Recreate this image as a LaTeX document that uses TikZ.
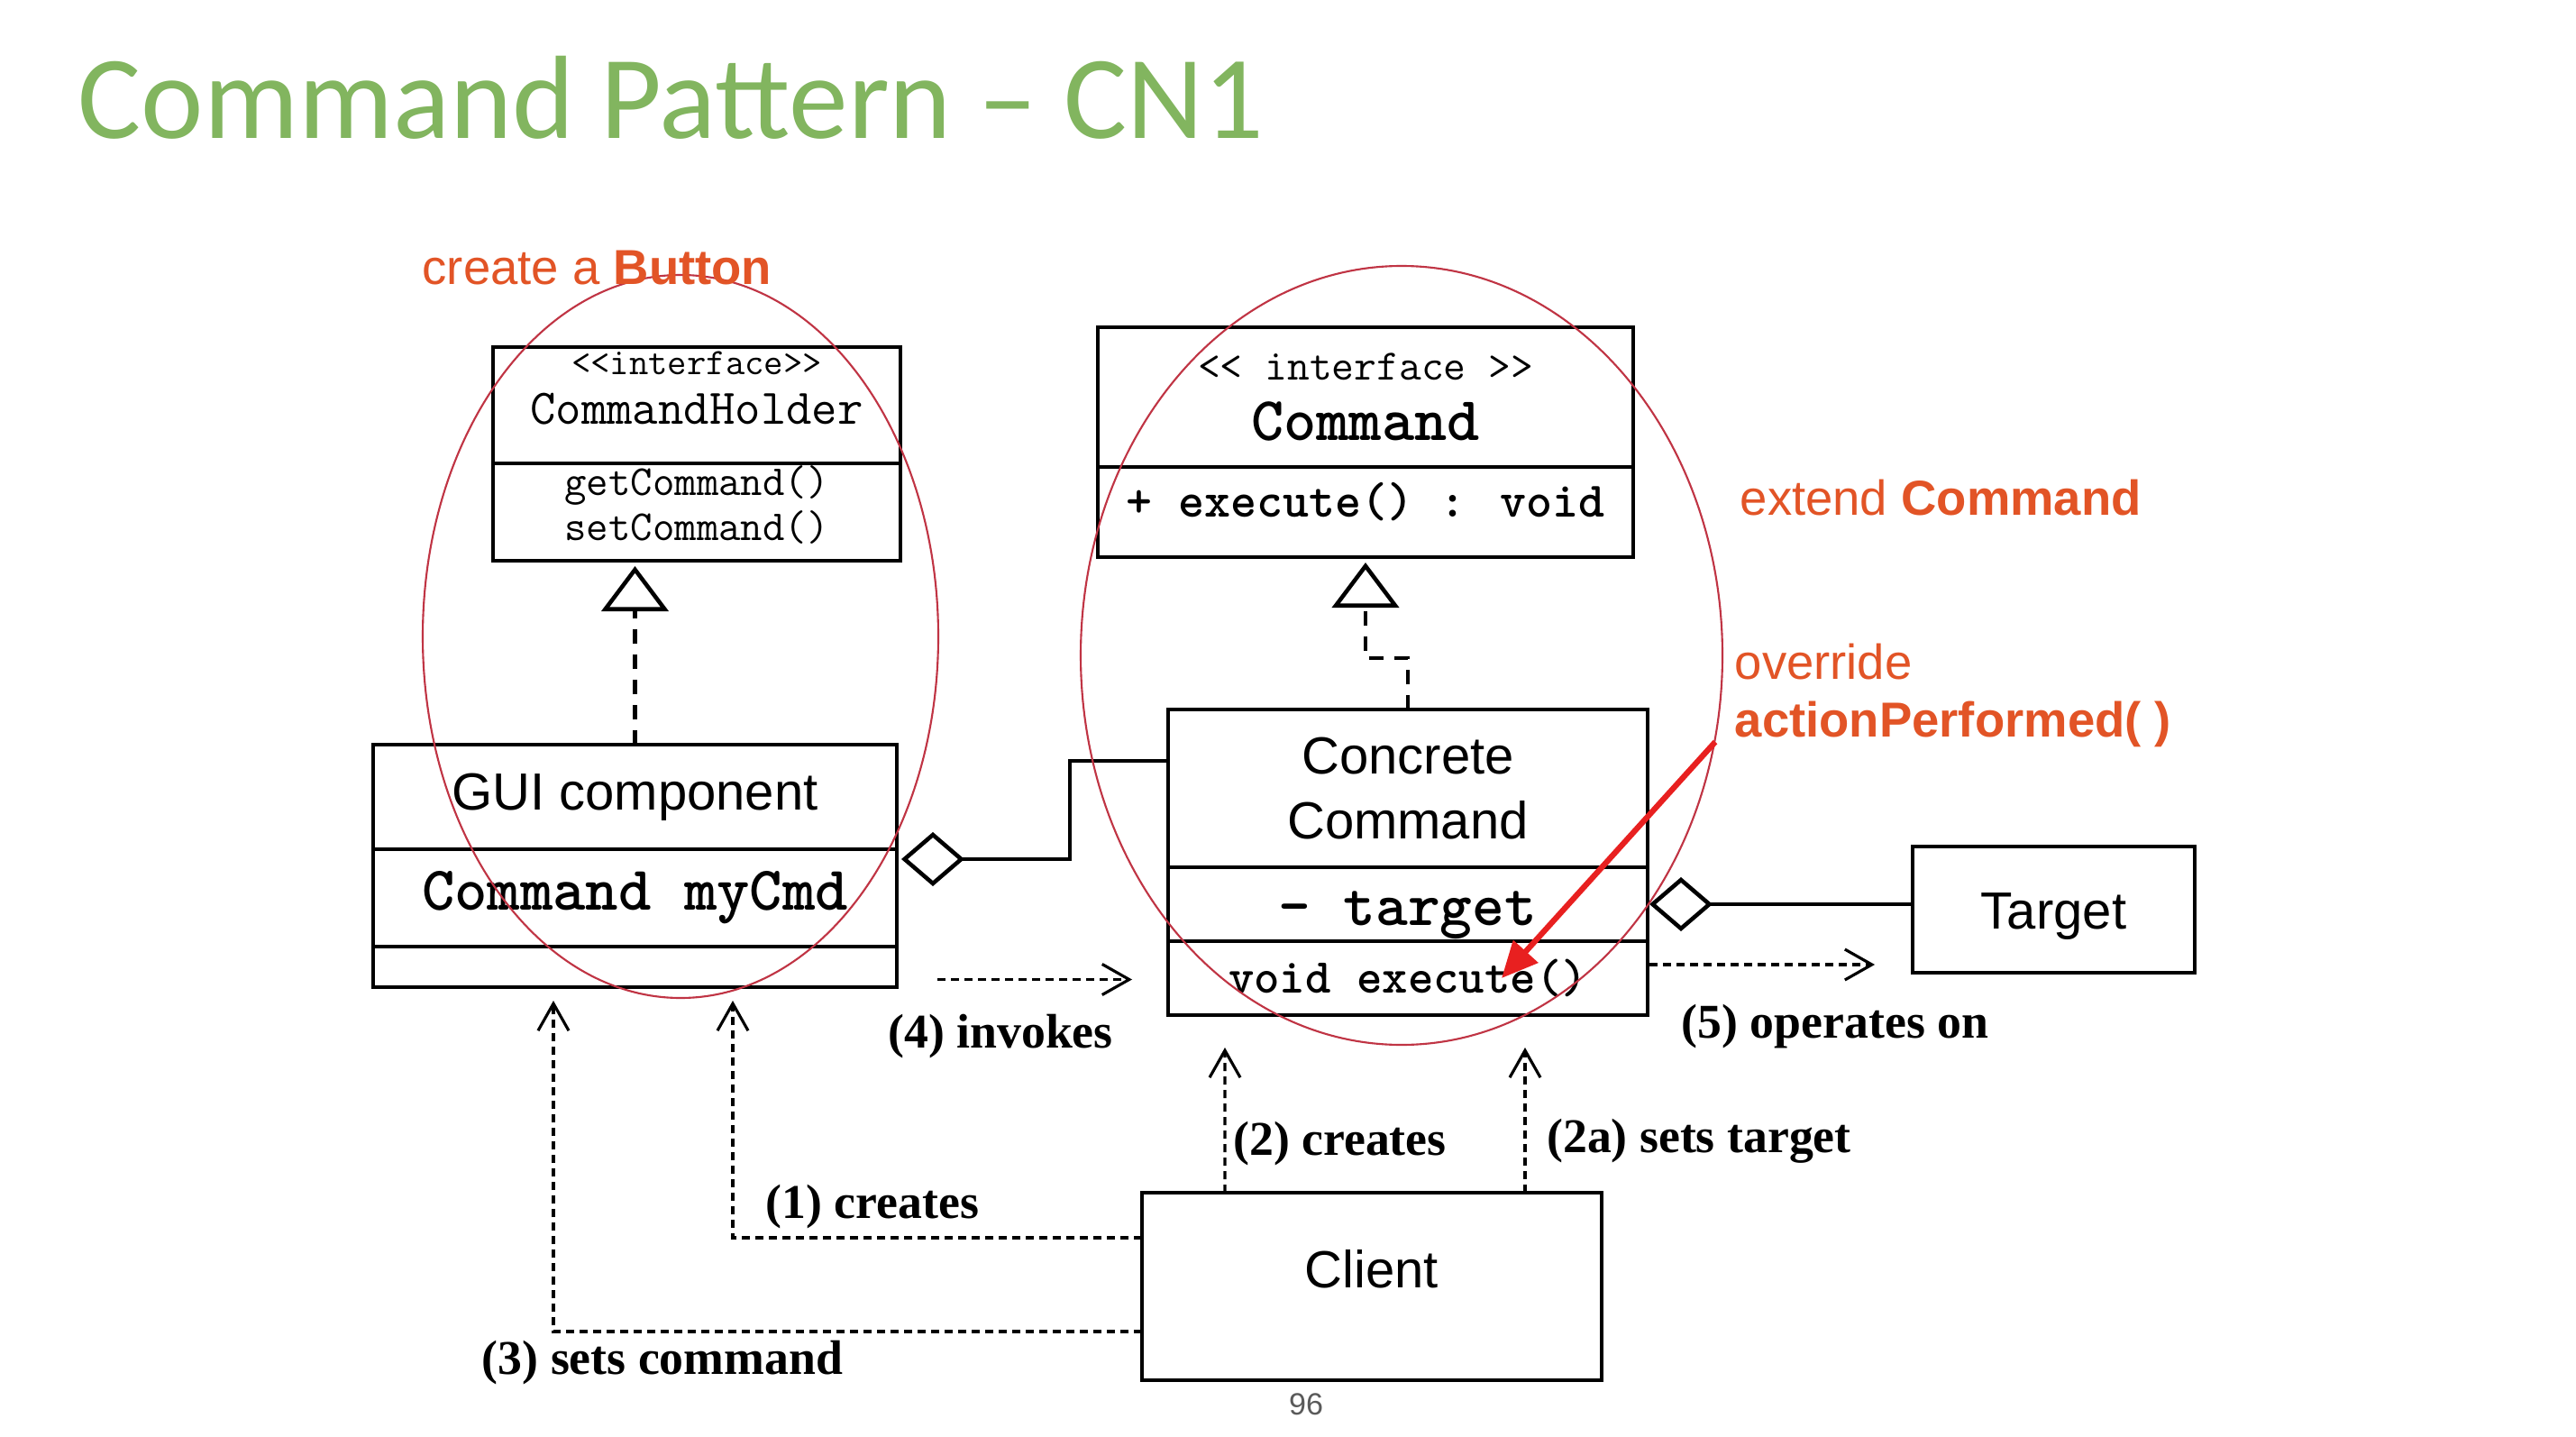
\documentclass[tikz,border=0pt]{standalone}
\usepackage{fontspec}
\setsansfont{Liberation Sans}
\newfontfamily\titlefont{Carlito}
\newfontfamily\labelfont{Liberation Serif}
\usetikzlibrary{arrows.meta, positioning, calc}
\definecolor{slidegreen}{RGB}{130,181,95}
\definecolor{noteorange}{RGB}{226,84,38}
\definecolor{ringred}{RGB}{192,52,68}
\definecolor{pointred}{RGB}{232,32,32}
\definecolor{pagegrey}{RGB}{90,90,90}

\begin{document}
\begin{tikzpicture}[
  comp/.style={rectangle, draw=black, line width=1.3pt, inner sep=0pt,
               outer sep=0pt, align=center},
  sanslbl/.style={font=\sffamily\fontsize{16.5}{20.4}\selectfont},
  note/.style={font=\sffamily\fontsize{15.5}{18}\selectfont, text=noteorange,
               inner sep=0pt},
  steplbl/.style={font=\labelfont\bfseries\fontsize{15.3}{18}\selectfont,
                  inner sep=1pt},
  realize/.style={line width=1.3pt, dash pattern=on 1.6mm off 1.2mm,
                  -{Triangle[open, length=5mm, width=7.4mm]}, shorten >=0.6mm},
  agg/.style={line width=1.3pt, {Diamond[open, length=7mm, width=6mm]}-},
  dep/.style={line width=0.9pt, dash pattern=on 0.9mm off 0.6mm,
              -{Straight Barb[length=3mm, width=3.4mm]}},
  ring/.style={draw=ringred, line width=0.6pt},
  pointer/.style={draw=pointred, line width=1.8pt,
                  -{Triangle[length=4mm, width=3.6mm]}}
]
\path[fill=white, use as bounding box] (0,0) rectangle (28.58,-15.94);

\node[anchor=base west, inner sep=0pt, text=slidegreen,
      font=\titlefont\fontsize{37.4}{40}\selectfont] (title) at (0.86,-1.54)
  {Command Pattern – CN1};

% CommandHolder interface
\node[comp, minimum width=4.52cm, minimum height=1.29cm, text depth=0.39cm,
      font=\ttfamily\fontsize{11.8}{15.6}\selectfont] (holderhead) at (7.73,-4.495)
  {<{}<interface>{}>\\{\fontsize{15.7}{15.6}\selectfont CommandHolder}};
\node[comp, below=0pt of holderhead, minimum width=4.52cm, minimum height=1.08cm,
      text depth=0.2cm, font=\ttfamily\fontsize{13.5}{14.2}\selectfont] (holderops)
  {getCommand()\\setCommand()};

% Command interface
\node[comp, minimum width=5.94cm, minimum height=1.55cm,
      font=\ttfamily\fontsize{13.7}{19}\selectfont] (cmdhead) at (15.15,-4.405)
  {<{}< interface >{}>\\{\bfseries\fontsize{19.6}{19}\selectfont Command}};
\node[comp, below=0pt of cmdhead, minimum width=5.94cm, minimum height=1.00cm,
      text depth=0.27cm, font=\ttfamily\bfseries\fontsize{15.7}{18}\selectfont] (cmdops)
  {+ execute() : void};

% GUI component
\node[comp, sanslbl, minimum width=5.81cm, minimum height=1.16cm] (guihead)
  at (7.045,-8.84) {GUI component};
\node[comp, below=0pt of guihead, minimum width=5.81cm, minimum height=1.08cm,
      text depth=0.16cm, font=\ttfamily\bfseries\fontsize{19.7}{22}\selectfont] (guiattr)
  {Command myCmd};
\node[comp, below=0pt of guiattr, minimum width=5.81cm, minimum height=0.45cm]
  (guiops) {};

% Concrete command
\node[comp, sanslbl, minimum width=5.32cm, minimum height=1.75cm] (conchead)
  at (15.62,-8.745) {Concrete\\Command};
\node[comp, below=0pt of conchead, minimum width=5.32cm, minimum height=0.82cm,
      text height=0.62cm, font=\ttfamily\bfseries\fontsize{19.4}{22}\selectfont] (concattr)
  {- target};
\node[comp, below=0pt of concattr, minimum width=5.32cm, minimum height=0.82cm,
      font=\ttfamily\bfseries\fontsize{15.4}{18}\selectfont] (concops)
  {void execute()};

\node[comp, sanslbl, minimum width=3.13cm, minimum height=1.40cm, text height=0.56cm]
  (target) at (22.785,-10.09) {Target};
\node[comp, sanslbl, minimum width=5.10cm, minimum height=2.08cm, text depth=0.4cm]
  (client) at (15.22,-14.27) {Client};

% realization
\draw[realize] (guihead.north) -- (guihead.north |- holderops.south);
\draw[realize] (conchead.north) -- ++(0,0.57) -| (cmdops.south);

% aggregation
\draw[agg] ($(guiattr.north east)+(0.05,-0.11)$) -- ++(1.87,0)
  |- ($(conchead.north west)+(0,-0.57)$);
\draw[agg] ($(concattr.east)+(0.02,0)$) -- (concattr.east -| target.west);

% dependencies
\coordinate (invstart) at ($(guiops.east)+(0.45,-0.14)$);
\coordinate (opstart) at ($(concops.north east)+(0.02,-0.26)$);
\draw[dep, shorten >=0.4cm] (invstart) -- (invstart -| concops.west);
\draw[dep, shorten >=0.42cm] (opstart) -- (opstart -| target.west);
\draw[dep, shorten >=0.15cm] ($(client.north west)+(0,-0.50)$)
  -| ($(guiops.south west)+(3.99,0)$);
\draw[dep, shorten >=0.15cm] ($(client.north west)+(0,-1.54)$)
  -| ($(guiops.south west)+(2.00,0)$);
\draw[dep, shorten >=0.36cm] ($(client.north west)+(0.92,0)$)
  -- ($(concops.south west)+(0.63,0)$);
\draw[dep, shorten >=0.36cm] ($(client.north west)+(4.25,0)$)
  -- ($(concops.south west)+(3.96,0)$);

\node[steplbl] (lblinv) at (11.10,-11.50) {(4) invokes};
\node[steplbl] (lblop) at (20.36,-11.39) {(5) operates on};
\node[steplbl] (lblone) at (9.68,-13.39) {(1) creates};
\node[steplbl] (lblthree) at (7.35,-15.12) {(3) sets command};
\node[steplbl, anchor=west] (lbltwo) at (13.64,-12.69) {(2) creates};
\node[steplbl, anchor=west] (lbltwoa) at (17.12,-12.66) {(2a) sets target};

\node[font=\sffamily\fontsize{9.7}{11}\selectfont, text=pagegrey] (pagenum)
  at (14.49,-15.58) {96};

% annotations
\draw[ring] (7.55,-7.06) ellipse [x radius=2.86, y radius=4.01];
\draw[ring] (15.55,-7.27) ellipse [x radius=3.56, y radius=4.32];

\node[note, anchor=base west] (buttonnote) at (4.68,-3.16) {create a \textbf{Button}};
\node[note, anchor=base west] (extendnote) at (19.30,-5.71) {extend \textbf{Command}};
\node[note, anchor=base west] (overridenote) at (19.24,-7.53) {override};
\node[note, anchor=base west] (actionnote) at (19.24,-8.17) {\textbf{actionPerformed( )}};

\coordinate (ptrstart) at (19.03,-8.23);
\coordinate (ptrtip) at (16.66,-10.85);
\draw[pointer] (ptrstart) -- (ptrtip);
\end{tikzpicture}
\end{document}
